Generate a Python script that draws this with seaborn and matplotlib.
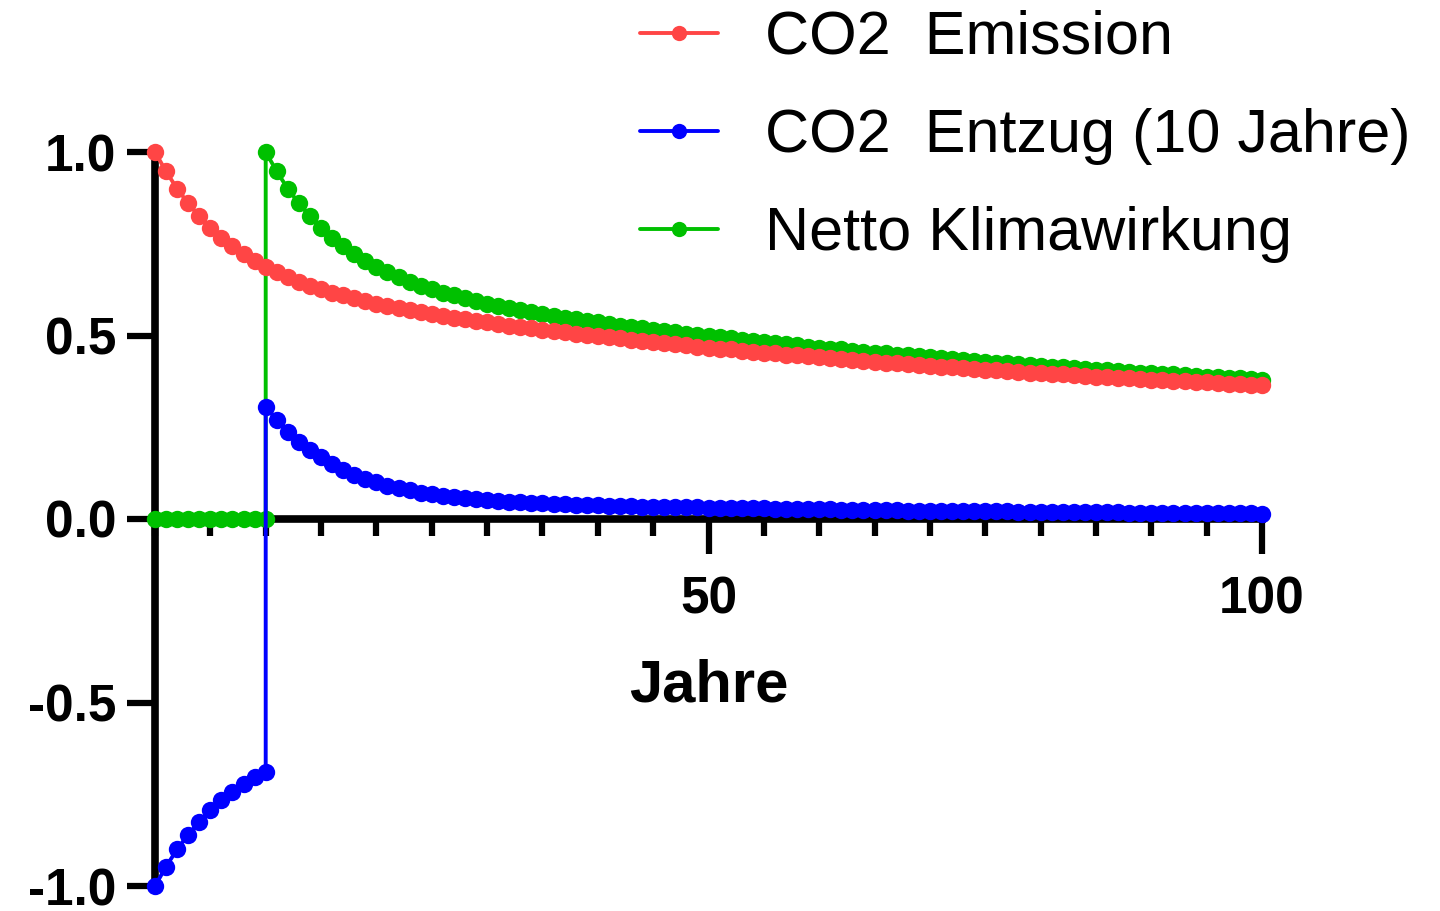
import matplotlib
matplotlib.use("Agg")
import matplotlib.pyplot as plt
import seaborn as sns
from matplotlib.ticker import FixedLocator, MultipleLocator, FormatStrFormatter

# x positions: year 10 appears twice in the removal/net series (the step)
years = list(range(0, 101))
years_split = list(range(0, 11)) + list(range(10, 101))

emission = [
    1.000, 0.947, 0.900, 0.860, 0.825, 0.794, 0.767, 0.743, 0.722, 0.703,
    0.687, 0.672, 0.659, 0.647, 0.636, 0.626, 0.617, 0.609, 0.601, 0.594,
    0.587, 0.581, 0.575, 0.569, 0.564, 0.558, 0.554, 0.549, 0.544, 0.540,
    0.536, 0.531, 0.527, 0.523, 0.520, 0.516, 0.512, 0.509, 0.505, 0.502,
    0.498, 0.495, 0.492, 0.488, 0.485, 0.482, 0.479, 0.476, 0.473, 0.470,
    0.467, 0.464, 0.462, 0.459, 0.456, 0.453, 0.451, 0.448, 0.446, 0.443,
    0.441, 0.438, 0.436, 0.433, 0.431, 0.429, 0.426, 0.424, 0.422, 0.420,
    0.417, 0.415, 0.413, 0.411, 0.409, 0.407, 0.405, 0.403, 0.401, 0.399,
    0.397, 0.396, 0.394, 0.392, 0.390, 0.388, 0.387, 0.385, 0.383, 0.382,
    0.380, 0.378, 0.377, 0.375, 0.374, 0.372, 0.371, 0.369, 0.368, 0.366,
    0.365,
]

removal = [
    -1.000, -0.947, -0.900, -0.860, -0.825, -0.794, -0.767, -0.743, -0.722, -0.703,
    -0.690,
    0.306, 0.270, 0.238, 0.211, 0.188, 0.168, 0.150, 0.134, 0.121, 0.109,
    0.100, 0.091, 0.084, 0.078, 0.072, 0.068, 0.063, 0.060, 0.057, 0.054,
    0.051, 0.049, 0.047, 0.046, 0.044, 0.043, 0.042, 0.040, 0.039, 0.038,
    0.037, 0.036, 0.035, 0.035, 0.034, 0.034, 0.033, 0.033, 0.032, 0.032,
    0.031, 0.031, 0.030, 0.029, 0.029, 0.029, 0.028, 0.028, 0.027, 0.027,
    0.026, 0.026, 0.025, 0.025, 0.025, 0.024, 0.024, 0.024, 0.023, 0.023,
    0.023, 0.023, 0.022, 0.022, 0.022, 0.021, 0.021, 0.021, 0.020, 0.020,
    0.020, 0.020, 0.019, 0.019, 0.019, 0.018, 0.018, 0.018, 0.017, 0.017,
    0.017, 0.017, 0.016, 0.016, 0.016, 0.016, 0.015, 0.015, 0.015, 0.015,
    0.014,
]

net = [
    0.0, 0.0, 0.0, 0.0, 0.0, 0.0, 0.0, 0.0, 0.0, 0.0,
    0.0,
    1.000, 0.947, 0.900, 0.860, 0.825, 0.794, 0.767, 0.743, 0.722, 0.703,
    0.687, 0.672, 0.659, 0.647, 0.636, 0.626, 0.617, 0.609, 0.601, 0.594,
    0.587, 0.581, 0.575, 0.569, 0.564, 0.558, 0.554, 0.549, 0.544, 0.540,
    0.536, 0.531, 0.527, 0.523, 0.520, 0.516, 0.512, 0.509, 0.505, 0.502,
    0.498, 0.495, 0.492, 0.488, 0.485, 0.482, 0.479, 0.476, 0.473, 0.470,
    0.467, 0.464, 0.462, 0.459, 0.456, 0.453, 0.451, 0.448, 0.446, 0.443,
    0.441, 0.438, 0.436, 0.433, 0.431, 0.429, 0.426, 0.424, 0.422, 0.420,
    0.417, 0.415, 0.413, 0.411, 0.409, 0.407, 0.405, 0.403, 0.401, 0.399,
    0.397, 0.396, 0.394, 0.392, 0.390, 0.388, 0.387, 0.385, 0.383, 0.382,
    0.380,
]

labels = ["CO2  Emission", "CO2  Entzug (10 Jahre)", "Netto Klimawirkung"]
colors = ["#FF4545", "#0000FF", "#00C000"]
x_major = [50, 100]
y_ticks = [-1.0, -0.5, 0.0, 0.5, 1.0]

sns.set_style("white")
plt.rcParams["font.family"] = ["Liberation Sans", "DejaVu Sans"]
plt.rcParams["axes.unicode_minus"] = False
for key in ["text.color", "axes.labelcolor", "xtick.color", "ytick.color"]:
    plt.rcParams[key] = "black"

fig = plt.figure(figsize=(14.4, 9.11), dpi=100)
ax = fig.add_axes([155 / 1440, 25 / 911, 1107 / 1440, 734 / 911])

style = dict(marker="o", markersize=12.5, markeredgewidth=0, linewidth=2.8,
             estimator=None, sort=False, errorbar=None, clip_on=False,
             zorder=3, ax=ax)

# green first so blue and red sit on top where they cross
sns.lineplot(x=years_split, y=net, color=colors[2], label=labels[2], **style)
sns.lineplot(x=years_split, y=removal, color=colors[1], label=labels[1], **style)
sns.lineplot(x=years, y=emission, color=colors[0], label=labels[0], **style)

ax.set_xlim(0, 100)
ax.set_ylim(-1, 1)

for side in ["top", "right"]:
    ax.spines[side].set_visible(False)
ax.spines["left"].set_position(("data", 0))
ax.spines["bottom"].set_position(("data", 0))
for side in ["left", "bottom"]:
    ax.spines[side].set_linewidth(5.5)
    ax.spines[side].set_color("black")

ax.xaxis.set_major_locator(FixedLocator(x_major))
ax.xaxis.set_minor_locator(MultipleLocator(5))
ax.yaxis.set_major_locator(FixedLocator(y_ticks))
ax.yaxis.set_major_formatter(FormatStrFormatter("%.1f"))

ax.tick_params(axis="x", which="major", length=25, width=4.5, pad=16,
               labelsize=37, direction="out", bottom=True)
ax.tick_params(axis="x", which="minor", length=12, width=4.5,
               direction="out", bottom=True)
ax.tick_params(axis="y", which="major", length=20, width=4.5, pad=8,
               labelsize=37, direction="out", left=True)
for lab in ax.get_xticklabels() + ax.get_yticklabels():
    lab.set_fontweight("bold")

ax.set_xlabel("Jahre", fontsize=43, fontweight="bold")
ax.xaxis.set_label_coords(0.5, 0.31)
ax.set_ylabel("")

handles, labs = ax.get_legend_handles_labels()
order = [labs.index(l) for l in labels]
ax.get_legend().remove()
leg = fig.legend([handles[i] for i in order], [labs[i] for i in order],
                 loc="upper left", bbox_to_anchor=(640 / 1440, 1 - 10 / 911),
                 frameon=False, fontsize=44, handlelength=1.28, handletextpad=0.77,
                 labelspacing=0.67, borderpad=0, borderaxespad=0)
for h in leg.legend_handles:
    h.set_markersize(11)

fig.savefig("out.png", dpi=100)
